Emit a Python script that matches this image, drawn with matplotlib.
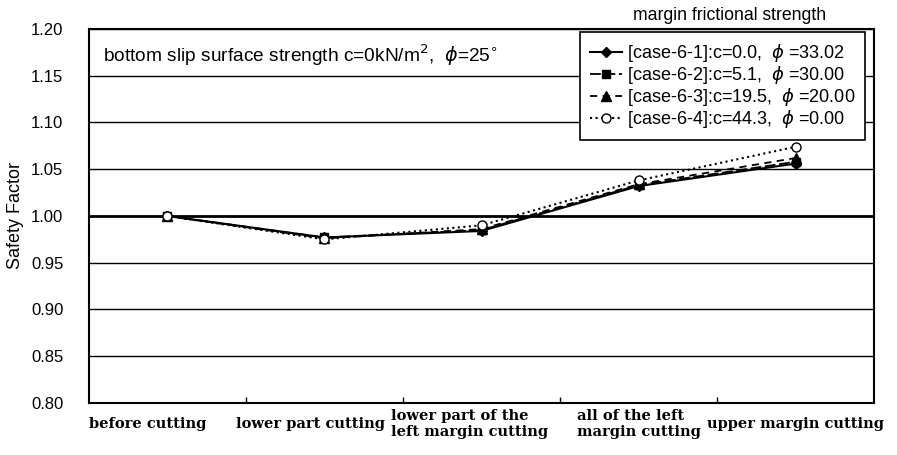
import numpy as np
import matplotlib.pyplot as plt
from matplotlib.transforms import ScaledTranslation

# data
stages = ['before cutting', 'lower part cutting', 'lower part of the\nleft margin cutting',
          'all of the left\nmargin cutting', 'upper margin cutting']
case1 = [1.000, 0.977, 0.984, 1.032, 1.056]
case2 = [1.000, 0.977, 0.985, 1.033, 1.058]
case3 = [1.000, 0.976, 0.986, 1.034, 1.062]
case4 = [1.000, 0.975, 0.990, 1.038, 1.074]
labels = ['[case-6-1]:c=0.0,  $\\phi$ =33.02',
          '[case-6-2]:c=5.1,  $\\phi$ =30.00',
          '[case-6-3]:c=19.5,  $\\phi$ =20.00',
          '[case-6-4]:c=44.3,  $\\phi$ =0.00']
yticks = [0.80, 0.85, 0.90, 0.95, 1.00, 1.05, 1.10, 1.15, 1.20]
label_shift = [-20, -14, -12, 0, 0]   # px, excel-ish label placement

plt.rcParams['font.family'] = ['Liberation Sans', 'DejaVu Sans']
plt.rcParams['mathtext.fontset'] = 'dejavusans'

fig = plt.figure(figsize=(8.97, 4.55), dpi=100)
ax = fig.add_axes([0.0992, 0.1143, 0.8752, 0.822])

x = np.arange(len(stages))

# gridlines
for yv in yticks:
    lw = 2.0 if abs(yv - 1.0) < 1e-9 else 1.0
    ax.axhline(yv, color='black', lw=lw, zorder=1)

ax.plot(x, case1, '-', color='black', lw=1.5, marker='D', ms=5.5, mfc='black', label=labels[0], zorder=3)
ax.plot(x, case2, '--', color='black', lw=1.3, dashes=(6, 2), marker='s', ms=6, mfc='black', label=labels[1], zorder=3)
ax.plot(x, case3, '--', color='black', lw=1.3, dashes=(4, 3), marker='^', ms=6.5, mfc='black', label=labels[2], zorder=3)
ax.plot(x, case4, ':', color='black', lw=1.5, marker='o', ms=6.5, mfc='white', label=labels[3], zorder=4)

ax.set_xlim(-0.5, len(stages) - 0.5)
ax.set_ylim(0.80, 1.20)
ax.set_yticks(yticks)
ax.set_yticklabels(['%.2f' % v for v in yticks], fontsize=12)
ax.tick_params(axis='y', length=0, pad=18.5)

# category boundaries as ticks, labels at centres
ax.set_xticks(np.arange(0.5, len(stages) - 0.5, 1.0))
ax.set_xticklabels([])
ax.tick_params(axis='x', which='major', direction='in', length=4, width=1)
ax.set_xticks(x, minor=True)
ax.set_xticklabels(stages, minor=True, fontsize=10.5, family='DejaVu Serif', weight='bold',
                   va='center', multialignment='left')
ax.tick_params(axis='x', which='minor', length=0, pad=15)
for lab, dx in zip(ax.get_xticklabels(minor=True), label_shift):
    lab.set_transform(lab.get_transform() + ScaledTranslation(dx / 100, 0, fig.dpi_scale_trans))

for s in ax.spines.values():
    s.set_linewidth(1.5)
    s.set_color('black')

ax.set_ylabel('Safety Factor', fontsize=13, va='center')
ax.yaxis.set_label_coords(-0.094, 0.5)

ax.text(0.018, 0.93, 'bottom slip surface strength c=0kN/m$^2$,  $\\phi$=25$^{\\circ}$',
        transform=ax.transAxes, fontsize=13.8, va='center', ha='left')

leg = ax.legend(loc='upper right', bbox_to_anchor=(0.9885, 0.992), borderaxespad=0,
                fontsize=13, frameon=True, fancybox=False, edgecolor='black', framealpha=1,
                handlelength=1.8, borderpad=0.55, labelspacing=0.0, handletextpad=0.25)
leg.get_frame().set_linewidth(1.2)
leg.set_zorder(5)

fig.text(730 / 897, 1 - 15 / 455, 'margin frictional strength', fontsize=12.7, ha='center', va='center')

plt.savefig('out.png', dpi=100)
